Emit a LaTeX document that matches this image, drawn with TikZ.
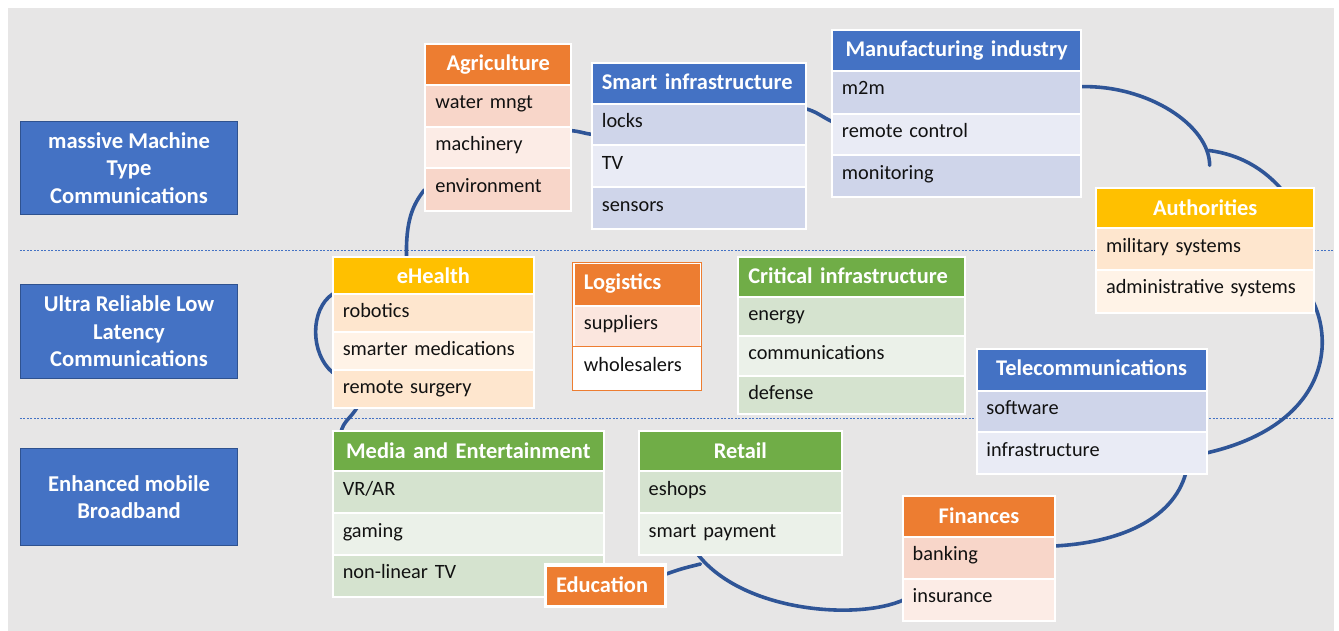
\documentclass[tikz,border=0pt]{standalone}
\usepackage{fontspec}
\setmainfont{Carlito}
\usetikzlibrary{calc}
\pgfdeclarelayer{back}
\pgfdeclarelayer{mid}
\pgfsetlayers{back,mid,main}
\definecolor{bggray}{HTML}{E7E6E6}
\definecolor{accblue}{HTML}{4472C4}
\definecolor{bordblue}{HTML}{2F528F}
\definecolor{cloudblue}{HTML}{2F5597}
\definecolor{accorange}{HTML}{ED7D31}
\definecolor{accgold}{HTML}{FFC000}
\definecolor{accgreen}{HTML}{70AD47}
\definecolor{bluedark}{HTML}{CFD5EA}
\definecolor{bluelight}{HTML}{E9EBF5}
\definecolor{orgdark}{HTML}{F8D6C9}
\definecolor{orglight}{HTML}{FCECE6}
\definecolor{golddark}{HTML}{FEE6CE}
\definecolor{goldlight}{HTML}{FFF3E7}
\definecolor{grndark}{HTML}{D5E3CF}
\definecolor{grnlight}{HTML}{EBF1E9}
\definecolor{logirow}{HTML}{FBE6DE}
\definecolor{rowtext}{HTML}{111111}
\newcommand\rowfont{\fontsize{20.4bp}{24bp}\selectfont}
\newcommand\headfont{\fontsize{22.5bp}{26bp}\selectfont\bfseries}
\newcommand\sidefont{\fontsize{22.7bp}{27.5bp}\selectfont\bfseries}
\tikzset{
  cellbox/.style={rectangle, anchor=north west, draw=white, line width=2bp,
    inner xsep=10bp, inner ysep=0pt, align=left, font=\rowfont, text=rowtext},
  headbox/.style={cellbox, font=\headfont, text=white},
  sidebox/.style={rectangle, anchor=north west, fill=accblue, draw=bordblue,
    line width=1bp, text=white, font=\sidefont, align=center, inner sep=0pt,
    minimum width=218bp},
  cloudline/.style={draw=cloudblue, line width=3.6bp, line cap=round},
  zoneline/.style={draw=accblue, line width=0.8bp, dash pattern=on 2bp off 1.5bp},
}
% name, x, y, w, h, fill, text
\newcommand\tabrow[7]{\pgfmathsetmacro\tw{#4-20}\pgfmathsetmacro\td{#5-24}%
  \node[cellbox, fill=#6, text width=\tw bp, text height=24bp, text depth=\td bp] (#1) at (#2,#3) {#7};}
% name, x, y, w, h, fill, align, text
\newcommand\tabhead[8]{\pgfmathsetmacro\tw{#4-20}\pgfmathsetmacro\td{#5-27}%
  \node[headbox, fill=#6, align=#7, text width=\tw bp, text height=27bp, text depth=\td bp] (#1) at (#2,#3) {#8};}
\begin{document}
\begin{tikzpicture}[x=1bp, y=-1bp]
\begin{pgfonlayer}{back}
  \useasboundingbox[fill=white] (0,0) rectangle (1339,633);
  \fill[bggray] (8,8) rectangle (1339,633);
  \coordinate (zoneAl) at (20,251);
  \coordinate (zoneAr) at (1339,251);
  \coordinate (zoneBl) at (20,420);
  \coordinate (zoneBr) at (1339,420);
  \draw[zoneline] (zoneAl) -- (zoneAr);
  \draw[zoneline] (zoneBl) -- (zoneBr);
\end{pgfonlayer}

% side boxes
\node[sidebox, minimum height=94bp] (mmtc) at (20,121) {massive Machine\\Type\\Communications};
\node[sidebox, minimum height=94bp] (urllc) at (20,285) {Ultra Reliable Low\\Latency\\Communications};
\node[sidebox, minimum height=97bp] (embb) at (20,450) {Enhanced mobile\\Broadband};

% Agriculture
\tabhead{agh}{426}{43}{146}{41}{accorange}{center}{Agriculture}
\tabrow{agr1}{426}{84}{146}{42}{orgdark}{water mngt}
\tabrow{agr2}{426}{126}{146}{42}{orglight}{machinery}
\tabrow{agr3}{426}{168}{146}{43}{orgdark}{environment}

% Smart infrastructure
\tabhead{sih}{593}{62}{215}{41}{accblue}{left}{Smart infrastructure}
\tabrow{sir1}{593}{103}{215}{42}{bluedark}{locks}
\tabrow{sir2}{593}{145}{215}{42}{bluelight}{TV}
\tabrow{sir3}{593}{187}{215}{42}{bluedark}{sensors}

% Manufacturing industry
\tabhead{mfh}{834}{29}{250}{41}{accblue}{center}{Manufacturing industry}
\tabrow{mfr1}{834}{70}{250}{43}{bluedark}{m2m}
\tabrow{mfr2}{834}{113}{250}{42}{bluelight}{remote control}
\tabrow{mfr3}{834}{155}{250}{42}{bluedark}{monitoring}

% Authorities
\tabhead{auh}{1099}{188}{219}{40}{accgold}{center}{Authorities}
\tabrow{aur1}{1099}{228}{219}{42}{golddark}{military systems}
\tabrow{aur2}{1099}{270}{219}{43}{goldlight}{administrative systems}

% eHealth
\tabhead{ehh}{333}{257}{202}{37}{accgold}{center}{eHealth}
\tabrow{ehr1}{333}{294}{202}{38}{golddark}{robotics}
\tabrow{ehr2}{333}{332}{202}{38}{goldlight}{smarter medications}
\tabrow{ehr3}{333}{370}{202}{38}{golddark}{remote surgery}

% Logistics
\tabhead{loh}{575}{263}{127}{43}{accorange}{left}{Logistics}
\tabrow{lor1}{575}{306}{127}{42}{logirow}{suppliers}
\tabrow{lor2}{575}{348}{127}{42}{white}{wholesalers}
\draw[accorange, line width=1bp] (loh.north west) rectangle (lor2.south east);
\draw[accorange, line width=1bp] (lor2.north west) -- (lor2.north east);

% Critical infrastructure
\tabhead{crh}{740}{257}{227}{40}{accgreen}{left}{Critical infrastructure}
\tabrow{crr1}{740}{297}{227}{39}{grndark}{energy}
\tabrow{crr2}{740}{336}{227}{40}{grnlight}{communications}
\tabrow{crr3}{740}{376}{227}{38}{grndark}{defense}

% Telecommunications
\tabhead{teh}{979}{349}{231}{42}{accblue}{center}{Telecommunications}
\tabrow{ter1}{979}{391}{231}{42}{bluedark}{software}
\tabrow{ter2}{979}{433}{231}{42}{bluelight}{infrastructure}

% Finances
\tabhead{fih}{905}{497}{153}{41}{accorange}{center}{Finances}
\tabrow{fir1}{905}{538}{153}{42}{orgdark}{banking}
\tabrow{fir2}{905}{580}{153}{42}{orglight}{insurance}

% Media and Entertainment
\tabhead{meh}{333}{432}{272}{40}{accgreen}{center}{Media and Entertainment}
\tabrow{mer1}{333}{472}{272}{42}{grndark}{VR/AR}
\tabrow{mer2}{333}{514}{272}{42}{grnlight}{gaming}
\tabrow{mer3}{333}{556}{272}{42}{grndark}{non-linear TV}

% Retail
\tabhead{reh}{640}{432}{204}{40}{accgreen}{center}{Retail}
\tabrow{ret1}{640}{472}{204}{42}{grndark}{eshops}
\tabrow{ret2}{640}{514}{204}{42}{grnlight}{smart payment}

% Education
\tabhead{edu}{547}{567}{119}{40}{accorange}{left}{Education}
\draw[white, line width=3bp] (edu.north west) rectangle (edu.south east);

% cloud outline behind the tables
\coordinate (lobeA) at (1214,166);
\coordinate (lobeB) at (1213,151);
\begin{pgfonlayer}{mid}
  \draw[cloudline] (agr3.west) .. controls ($(agr3.west)+(-12,15)$) and ($(ehh.north west)+(74,-35)$) .. ($(ehh.north west)+(75,2)$);
  \draw[cloudline] ($(ehh.south west)+(1,-1)$) .. controls ($(ehh.south west)+(-22,14)$) and ($(ehr3.north west)+(-22,-15)$) .. ($(ehr3.north west)+(1,4)$);
  \draw[cloudline] ($(ehr3.south west)+(26,-2)$) .. controls ($(ehr3.south west)+(19,10)$) and ($(meh.north west)+(12,-10)$) .. ($(meh.north west)+(9,2)$);
  \draw[cloudline] ($(agr2.north east)+(-2,5)$) .. controls ($(agr2.north east)+(10,6)$) and ($(sir1.west)+(-8,9)$) .. ($(sir1.west)+(3,10)$);
  \draw[cloudline] ($(sir1.north east)+(-2,6)$) .. controls ($(sir1.north east)+(10,9)$) and ($(mfr2.north west)+(-10,4)$) .. ($(mfr2.north west)+(3,10)$);
  \draw[cloudline] ($(mfr1.north east)+(-2,17)$) .. controls ($(mfr1.north east)+(66,15)$) and ($(lobeA)+(0,-40)$) .. (lobeA);
  \draw[cloudline] (lobeB) .. controls ($(lobeB)+(32,4)$) and ($(auh.north west)+(170,-18)$) .. ($(auh.north west)+(188,3)$);
  \draw[cloudline] ($(aur2.south east)+(-2,-12)$) .. controls ($(aur2.south east)+(22,40)$) and ($(ter2.east)+(110,-25)$) .. ($(ter2.east)+(-3,0)$);
  \draw[cloudline] ($(ter2.south east)+(-22,-2)$) .. controls ($(ter2.south east)+(-35,45)$) and ($(fir1.north east)+(62,7)$) .. ($(fir1.north east)+(-3,10)$);
  \draw[cloudline] ($(fir2.west)+(2,0)$) .. controls ($(fir2.west)+(-45,21)$) and ($(ret2.south west)+(105,56)$) .. ($(ret2.south west)+(60,-2)$);
  \draw[cloudline] ($(edu.north east)+(-2,10)$) .. controls ($(edu.north east)+(15,4)$) .. ($(ret2.south west)+(63,8)$);
\end{pgfonlayer}
\end{tikzpicture}
\end{document}
